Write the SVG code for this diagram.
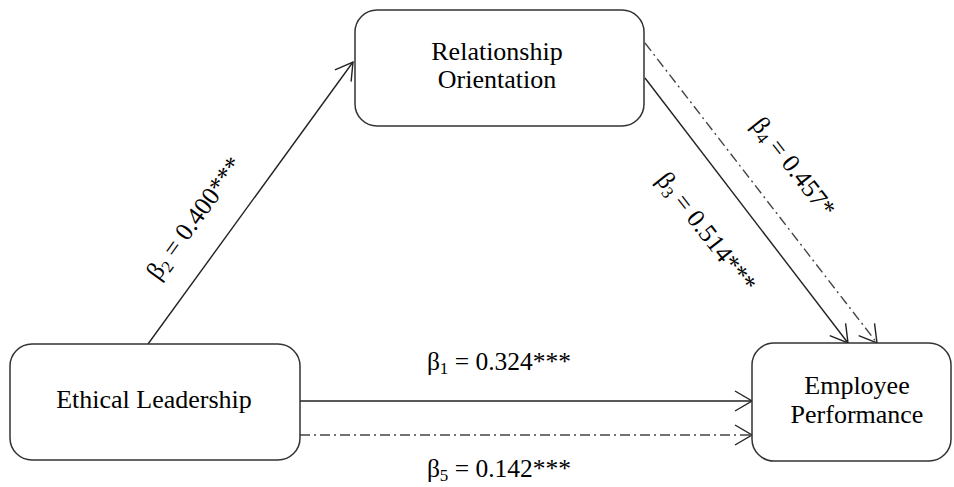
<svg xmlns="http://www.w3.org/2000/svg" width="954" height="487" viewBox="0 0 954 487">
<style>
.box{fill:#fff;stroke:#333;stroke-width:1.5}
.t{font-family:"Liberation Serif","Times New Roman",serif;font-size:26px;fill:#000;text-anchor:middle}
.l{font-family:"Liberation Serif","Times New Roman",serif;font-size:25.5px;fill:#000;text-anchor:middle}
.s{font-size:17px}
.e{fill:none;stroke:#222;stroke-width:1.4}
.dd{fill:none;stroke:#444;stroke-width:1.4;stroke-dasharray:10 4 2 4}
</style>
<defs>
<marker id="arr" markerUnits="userSpaceOnUse" viewBox="-20 -12 22 24" markerWidth="22" markerHeight="24" refX="0" refY="0" orient="auto">
<path d="M-17,-10 L0,0 L-17,10" fill="none" stroke="#222" stroke-width="1.4"/>
</marker>
</defs>
<g id="connectors">
<line class="e" x1="148" y1="344" x2="353" y2="62" marker-end="url(#arr)"/>
<line class="e" x1="645" y1="78" x2="848" y2="343" marker-end="url(#arr)"/>
<line class="dd" x1="645" y1="43" x2="877" y2="343" marker-end="url(#arr)"/>
<line class="e" x1="300" y1="401" x2="752" y2="401" marker-end="url(#arr)"/>
<line class="dd" x1="300" y1="435" x2="752" y2="435" marker-end="url(#arr)"/>
<text class="l" x="499" y="370">β<tspan class="s" dy="4">1</tspan><tspan dy="-4"> = 0.324***</tspan></text>
<text class="l" x="499" y="477">β<tspan class="s" dy="4">5</tspan><tspan dy="-4"> = 0.142***</tspan></text>
<text class="l" transform="translate(201,223) rotate(-54)">β<tspan class="s" dy="4">2</tspan><tspan dy="-4"> = 0.400***</tspan></text>
<text class="l" transform="translate(700,237) rotate(52)">β<tspan class="s" dy="4">3</tspan><tspan dy="-4"> = 0.514***</tspan></text>
<text class="l" transform="translate(787,172) rotate(52)">β<tspan class="s" dy="4">4</tspan><tspan dy="-4"> = 0.457*</tspan></text>
</g>
<g id="relationship-orientation">
<rect class="box" x="355" y="10" width="289" height="116" rx="22"/>
<text class="t" x="497" y="60">Relationship</text>
<text class="t" x="497" y="88">Orientation</text>
</g>
<g id="ethical-leadership">
<rect class="box" x="10" y="344" width="290" height="116" rx="22"/>
<text class="t" x="154" y="408">Ethical Leadership</text>
</g>
<g id="employee-performance">
<rect class="box" x="752" y="343" width="199" height="118" rx="22"/>
<text class="t" x="857" y="394">Employee</text>
<text class="t" x="857" y="423">Performance</text>
</g>
</svg>
